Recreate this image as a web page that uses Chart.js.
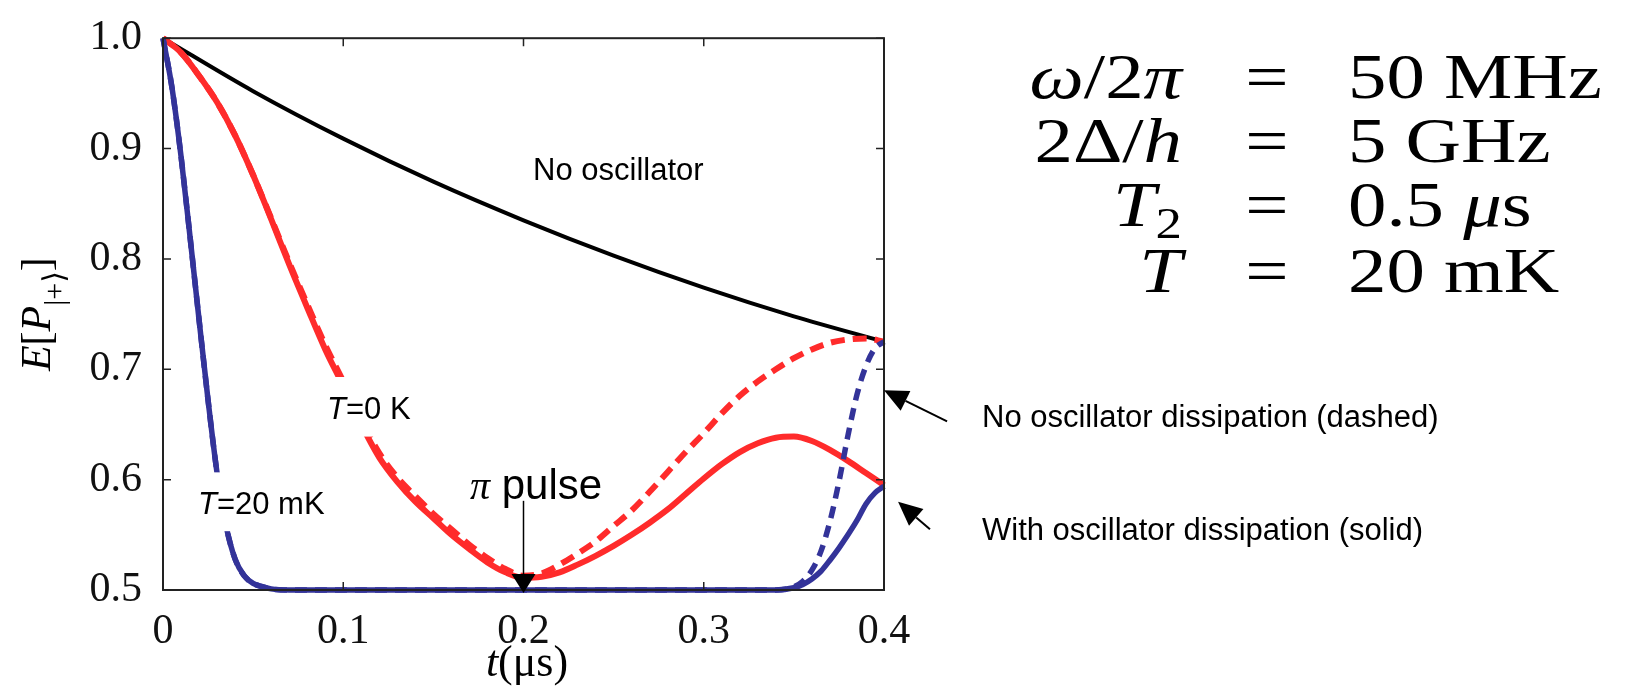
<!DOCTYPE html>
<html>
<head>
<meta charset="utf-8">
<script src="https://cdn.jsdelivr.net/npm/chart.js@4.4.1/dist/chart.umd.min.js"></script>
<style>
  html, body { margin: 0; padding: 0; background: #fff; }
  #wrap { width: 1630px; height: 688px; }
</style>
</head>
<body>
<div id="wrap"><canvas id="chart" width="1630" height="688"></canvas></div>
<script>
// values: t in microseconds, E[P] on the y axis
var tNoOsc = [0, 0.05, 0.1, 0.15, 0.2, 0.25, 0.3, 0.35, 0.4];
var pNoOsc = [1.0, 0.952, 0.909, 0.870, 0.835, 0.803, 0.774, 0.748, 0.725];

var tRed = [0, 0.01, 0.02, 0.03, 0.04, 0.05, 0.06, 0.07, 0.08, 0.09, 0.10,
            0.11, 0.12, 0.13, 0.14, 0.15, 0.16, 0.17, 0.18, 0.19, 0.20,
            0.21, 0.22, 0.23, 0.24, 0.25, 0.26, 0.27, 0.28, 0.29, 0.30,
            0.31, 0.32, 0.33, 0.34, 0.35, 0.36, 0.37, 0.38, 0.39, 0.40];
var pRedSolid = [1.0, 0.987, 0.966, 0.942, 0.912, 0.876, 0.836, 0.795, 0.756, 0.718, 0.685,
                 0.650, 0.620, 0.598, 0.580, 0.565, 0.550, 0.537, 0.525, 0.516, 0.511,
                 0.512, 0.516, 0.523, 0.531, 0.540, 0.550, 0.561, 0.573, 0.587, 0.601,
                 0.614, 0.625, 0.633, 0.638, 0.639, 0.635, 0.627, 0.617, 0.606, 0.595];
var pRedDashed = [1.0, 0.987, 0.966, 0.942, 0.912, 0.876, 0.837, 0.797, 0.759, 0.722, 0.689,
                  0.654, 0.624, 0.602, 0.585, 0.569, 0.555, 0.541, 0.529, 0.519, 0.513,
                  0.515, 0.523, 0.533, 0.544, 0.558, 0.572, 0.589, 0.607, 0.625, 0.642,
                  0.660, 0.676, 0.689, 0.700, 0.710, 0.718, 0.724, 0.727, 0.728, 0.725];

var tBlue = [0, 0.005, 0.01, 0.015, 0.02, 0.025, 0.03, 0.035, 0.04, 0.045, 0.05, 0.055, 0.06, 0.07,
             0.1, 0.2, 0.3, 0.34, 0.35, 0.355, 0.36, 0.365, 0.37, 0.375, 0.38, 0.385, 0.39, 0.395, 0.4];
var pBlueSolid = [1.0, 0.955, 0.893, 0.820, 0.745, 0.672, 0.606, 0.558, 0.528, 0.513, 0.506, 0.503, 0.501, 0.5,
                  0.5, 0.5, 0.5, 0.5, 0.502, 0.505, 0.510, 0.517, 0.527, 0.538, 0.550, 0.563, 0.578, 0.588, 0.594];
var pBlueDashed = [1.0, 0.955, 0.893, 0.820, 0.745, 0.672, 0.606, 0.558, 0.528, 0.513, 0.506, 0.503, 0.501, 0.5,
                   0.5, 0.5, 0.5, 0.5, 0.503, 0.508, 0.518, 0.535, 0.562, 0.598, 0.640, 0.677, 0.703, 0.719, 0.725];

var xTicks = [0, 0.1, 0.2, 0.3, 0.4];
var yTicks = [0.5, 0.6, 0.7, 0.8, 0.9, 1.0];

var RED = '#ff2b2b', BLUE = '#333399';
var SERIF = '"Liberation Serif", "DejaVu Serif", serif';
var SANS = '"Liberation Sans", Arial, sans-serif';

function pts(ts, vs){ return ts.map(function(t, i){ return { x: t, y: vs[i] }; }); }

// draw a run of text pieces [text, font, dy] from x (align: 'left'|'right'|'center')
function runText(ctx, pieces, x, y, align){
  var w = 0;
  pieces.forEach(function(p){ ctx.font = p[1]; w += ctx.measureText(p[0]).width; });
  var cx = align === 'right' ? x - w : (align === 'center' ? x - w / 2 : x);
  pieces.forEach(function(p){
    ctx.font = p[1];
    ctx.fillText(p[0], cx, y + (p[2] || 0));
    cx += ctx.measureText(p[0]).width;
  });
}

// same, stretched sideways (the table type is wide, like TeX's)
function wideText(ctx, pieces, x, y, align, sx){
  ctx.save();
  ctx.translate(x, 0); ctx.scale(sx, 1);
  runText(ctx, pieces, 0, y, align);
  ctx.restore();
}

function arrow(ctx, x1, y1, x2, y2, len, half){
  var ang = Math.atan2(y2 - y1, x2 - x1);
  var bx = x2 - len * Math.cos(ang), by = y2 - len * Math.sin(ang);
  ctx.beginPath(); ctx.moveTo(x1, y1); ctx.lineTo(bx, by); ctx.stroke();
  ctx.beginPath();
  ctx.moveTo(x2, y2);
  ctx.lineTo(bx + half * Math.sin(ang), by - half * Math.cos(ang));
  ctx.lineTo(bx - half * Math.sin(ang), by + half * Math.cos(ang));
  ctx.closePath(); ctx.fill();
}

var decor = {
  id: 'decor',
  afterDatasetsDraw: function(chart){
    var ctx = chart.ctx, a = chart.chartArea, x = chart.scales.x, y = chart.scales.y;
    function X(t){ return x.getPixelForValue(t); }
    function Y(v){ return y.getPixelForValue(v); }
    ctx.save();

    // white backdrops behind the curve labels
    ctx.fillStyle = '#fff';
    ctx.fillRect(X(0.087), Y(0.693), X(0.140) - X(0.087), Y(0.639) - Y(0.693));
    ctx.fillRect(X(0.0165), Y(0.6066), X(0.0938) - X(0.0165), Y(0.5533) - Y(0.6066));

    // frame + inward ticks on all four sides
    ctx.strokeStyle = '#222'; ctx.lineWidth = 2;
    ctx.strokeRect(a.left, a.top, a.right - a.left, a.bottom - a.top);
    ctx.lineWidth = 1.5;
    ctx.beginPath();
    x.ticks.forEach(function(tk){
      var px = X(tk.value);
      ctx.moveTo(px, a.bottom); ctx.lineTo(px, a.bottom - 8);
      ctx.moveTo(px, a.top); ctx.lineTo(px, a.top + 8);
    });
    y.ticks.forEach(function(tk){
      var py = Y(tk.value);
      ctx.moveTo(a.left, py); ctx.lineTo(a.left + 8, py);
      ctx.moveTo(a.right, py); ctx.lineTo(a.right - 8, py);
    });
    ctx.stroke();

    ctx.fillStyle = '#000'; ctx.strokeStyle = '#000';
    ctx.textBaseline = 'alphabetic';

    // labels inside the plot
    runText(ctx, [['No oscillator', '31px ' + SANS]], X(0.2053), Y(0.8712), 'left');
    runText(ctx, [['T', 'italic 31px ' + SANS], ['=0 K', '31px ' + SANS]], X(0.091), Y(0.6554), 'left');
    runText(ctx, [['T', 'italic 31px ' + SANS], ['=20 mK', '31px ' + SANS]], X(0.0194), Y(0.5693), 'left');
    runText(ctx, [['\u03c0', 'italic 40px ' + SERIF], [' pulse', '42px ' + SANS]], X(0.1703), Y(0.5826), 'left');

    // pi pulse arrow
    ctx.lineWidth = 1.5;
    arrow(ctx, X(0.2), Y(0.5808), X(0.2), a.bottom + 3, 19, 12);

    // arrows to the right-hand ends
    ctx.lineWidth = 2;
    arrow(ctx, X(0.435), Y(0.6528), X(0.4), Y(0.681), 24, 11);
    arrow(ctx, X(0.4255), Y(0.555), X(0.4078), Y(0.580), 24, 11);

    // notes to the right of the plot
    runText(ctx, [['No oscillator dissipation (dashed)', '31px ' + SANS]], 982, 427, 'left');
    runText(ctx, [['With oscillator dissipation (solid)', '31px ' + SANS]], 982, 540, 'left');

    // parameter table
    var f = '64px ' + SERIF, fi = 'italic 64px ' + SERIF, fs = '44px ' + SERIF, sx = 1.2;
    var rows = [
      [[['\u03c9', fi], ['/2', f], ['\u03c0', fi]], [['50 MHz', f]], 98],
      [[['2\u0394/', f], ['h', fi]], [['5 GHz', f]], 162],
      [[['T', fi], ['2', fs, 12]], [['0.5 ', f], ['\u03bc', fi], ['s', f]], 226],
      [[['T', fi]], [['20 mK', f]], 292]
    ];
    rows.forEach(function(r){
      wideText(ctx, r[0], 1182, r[2], 'right', sx);
      wideText(ctx, [['=', f]], 1267, r[2], 'center', sx);
      wideText(ctx, r[1], 1348, r[2], 'left', sx);
    });

    // x axis title
    runText(ctx, [['t', 'italic 44px ' + SERIF], ['(\u03bcs)', '44px ' + SERIF]], 527, 676, 'center');

    // y axis title, rotated
    ctx.translate(50, (a.top + a.bottom) / 2);
    ctx.rotate(-Math.PI / 2);
    runText(ctx, [
      ['E', 'italic 42px ' + SERIF], ['[', '42px ' + SERIF], ['P', 'italic 42px ' + SERIF],
      ['|+\u27e9', '30px ' + SERIF, 14], [']', '42px ' + SERIF]
    ], 0, 0, 'center');

    ctx.restore();
  }
};

new Chart(document.getElementById('chart'), {
  type: 'line',
  data: {
    datasets: [
      { label: 'T=20 mK, with dissipation', data: pts(tBlue, pBlueSolid), borderColor: BLUE, borderWidth: 5.5, order: 0 },
      { label: 'T=20 mK, no dissipation', data: pts(tBlue, pBlueDashed), borderColor: BLUE, borderWidth: 5.5, borderDash: [12, 8], order: 1 },
      { label: 'T=0 K, with dissipation', data: pts(tRed, pRedSolid), borderColor: RED, borderWidth: 6, order: 2 },
      { label: 'T=0 K, no dissipation', data: pts(tRed, pRedDashed), borderColor: RED, borderWidth: 6, borderDash: [14, 8], order: 3 },
      { label: 'No oscillator', data: pts(tNoOsc, pNoOsc), borderColor: '#000', borderWidth: 4, order: 4 }
    ]
  },
  options: {
    responsive: false,
    animation: false,
    devicePixelRatio: 1,
    elements: {
      point: { radius: 0 },
      line: { cubicInterpolationMode: 'monotone', fill: false, borderCapStyle: 'butt' }
    },
    datasets: { line: { clip: false } },
    layout: { padding: { left: 0, top: 27, right: 746, bottom: 0 } },
    plugins: { legend: { display: false }, tooltip: { enabled: false }, title: { display: false } },
    scales: {
      x: {
        type: 'linear', min: 0, max: 0.4,
        grid: { display: false },
        border: { display: false },
        afterBuildTicks: function(s){ s.ticks = xTicks.map(function(v){ return { value: v }; }); },
        ticks: {
          color: '#111', padding: 9,
          font: { family: 'Liberation Serif', size: 42 },
          callback: function(v){ return v === 0 ? '0' : v.toFixed(1); }
        },
        afterFit: function(s){ s.height = 98; }
      },
      y: {
        type: 'linear', min: 0.5, max: 1.0,
        grid: { display: false },
        border: { display: false },
        afterBuildTicks: function(s){ s.ticks = yTicks.map(function(v){ return { value: v }; }); },
        ticks: {
          color: '#111', padding: 13,
          font: { family: 'Liberation Serif', size: 42 },
          callback: function(v){ return v.toFixed(1); }
        },
        afterFit: function(s){ s.width = 163; }
      }
    }
  },
  plugins: [decor]
});
</script>
</body>
</html>
